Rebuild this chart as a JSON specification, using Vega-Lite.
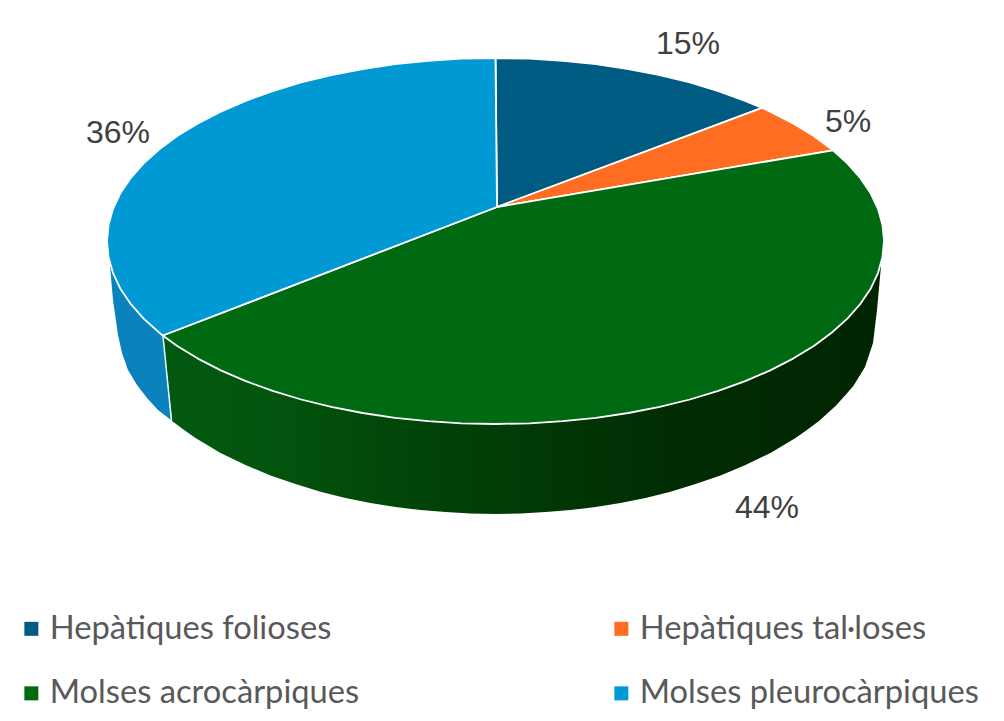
{"$schema":"https://vega.github.io/schema/vega-lite/v6.json","autosize":{"type":"fit","contains":"padding"},"width":1004,"height":721,"padding":0,"background":"white","view":{"stroke":null},
"datasets":{
"paretBlava":[
{"i":0,"x":110,"y":266},{"i":1,"x":113,"y":300},{"i":2,"x":118,"y":335},{"i":3,"x":122,"y":353},{"i":4,"x":128,"y":370},{"i":5,"x":137,"y":385},{"i":6,"x":147,"y":398},{"i":7,"x":158,"y":410},{"i":8,"x":171,"y":420},{"i":9,"x":163,"y":336},{"i":10,"x":200,"y":300},{"i":11,"x":110,"y":266}
],
"paretVerda":[
{"i":0,"x":163,"y":336},{"i":1,"x":172,"y":421},{"i":2,"x":185.5,"y":431.1},{"i":3,"x":195.5,"y":438},{"i":4,"x":220.5,"y":452.9},{"i":5,"x":245.5,"y":465},{"i":6,"x":270.5,"y":475.6},{"i":7,"x":295.5,"y":484},{"i":8,"x":320.5,"y":491.7},{"i":9,"x":345.5,"y":498},{"i":10,"x":370.5,"y":503},{"i":11,"x":395.5,"y":507},{"i":12,"x":420.5,"y":510.1},{"i":13,"x":445.5,"y":512},{"i":14,"x":470.5,"y":513.6},{"i":15,"x":495.5,"y":514},{"i":16,"x":520.5,"y":513.6},{"i":17,"x":545.5,"y":512},{"i":18,"x":570.5,"y":510.1},{"i":19,"x":595.5,"y":507},{"i":20,"x":620.5,"y":503},{"i":21,"x":645.5,"y":498},{"i":22,"x":670.5,"y":491.7},{"i":23,"x":695.5,"y":484},{"i":24,"x":720.5,"y":475.6},{"i":25,"x":745.5,"y":465},{"i":26,"x":770.5,"y":452.9},{"i":27,"x":795.5,"y":438},{"i":28,"x":805.5,"y":431.1},{"i":29,"x":819,"y":421},{"i":30,"x":835.5,"y":406},{"i":31,"x":845.5,"y":395},{"i":32,"x":853.5,"y":385.7},{"i":33,"x":865,"y":367},{"i":34,"x":873,"y":343},{"i":35,"x":877,"y":310},{"i":36,"x":881,"y":266},{"i":37,"x":700,"y":300},{"i":38,"x":163,"y":336}
],
"divisio":[{"i":0,"x":163,"y":336},{"i":1,"x":171.5,"y":421}],
"tapa":[
{"categoria":"Hepàtiques folioses","i":0,"x":497,"y":207},{"categoria":"Hepàtiques folioses","i":1,"x":495.5,"y":58},{"categoria":"Hepàtiques folioses","i":2,"x":529.4,"y":58.7},{"categoria":"Hepàtiques folioses","i":3,"x":562.9,"y":60.8},{"categoria":"Hepàtiques folioses","i":4,"x":596,"y":64.2},{"categoria":"Hepàtiques folioses","i":5,"x":628.4,"y":69},{"categoria":"Hepàtiques folioses","i":6,"x":659.7,"y":75.1},{"categoria":"Hepàtiques folioses","i":7,"x":689.8,"y":82.5},{"categoria":"Hepàtiques folioses","i":8,"x":718.3,"y":91.1},{"categoria":"Hepàtiques folioses","i":9,"x":745.2,"y":100.8},{"categoria":"Hepàtiques folioses","i":10,"x":762,"y":107.8},{"categoria":"Hepàtiques folioses","i":11,"x":497,"y":207},
{"categoria":"Hepàtiques tal·loses","i":0,"x":497,"y":207},{"categoria":"Hepàtiques tal·loses","i":1,"x":762,"y":107.8},{"categoria":"Hepàtiques tal·loses","i":2,"x":770.2,"y":111.6},{"categoria":"Hepàtiques tal·loses","i":3,"x":793.1,"y":123.4},{"categoria":"Hepàtiques tal·loses","i":4,"x":813.8,"y":136},{"categoria":"Hepàtiques tal·loses","i":5,"x":833,"y":150.3},{"categoria":"Hepàtiques tal·loses","i":6,"x":497,"y":207},
{"categoria":"Molses acrocàrpiques","i":0,"x":497,"y":207},{"categoria":"Molses acrocàrpiques","i":1,"x":833,"y":150.3},{"categoria":"Molses acrocàrpiques","i":2,"x":847.6,"y":163.7},{"categoria":"Molses acrocàrpiques","i":3,"x":860.6,"y":178.4},{"categoria":"Molses acrocàrpiques","i":4,"x":870.8,"y":193.6},{"categoria":"Molses acrocàrpiques","i":5,"x":878.1,"y":209.2},{"categoria":"Molses acrocàrpiques","i":6,"x":882.5,"y":225},{"categoria":"Molses acrocàrpiques","i":7,"x":884,"y":241},{"categoria":"Molses acrocàrpiques","i":8,"x":882.5,"y":257},{"categoria":"Molses acrocàrpiques","i":9,"x":878.1,"y":272.8},{"categoria":"Molses acrocàrpiques","i":10,"x":870.8,"y":288.4},{"categoria":"Molses acrocàrpiques","i":11,"x":860.6,"y":303.6},{"categoria":"Molses acrocàrpiques","i":12,"x":847.6,"y":318.3},{"categoria":"Molses acrocàrpiques","i":13,"x":831.9,"y":332.5},{"categoria":"Molses acrocàrpiques","i":14,"x":813.8,"y":346},{"categoria":"Molses acrocàrpiques","i":15,"x":793.1,"y":358.6},{"categoria":"Molses acrocàrpiques","i":16,"x":770.2,"y":370.4},{"categoria":"Molses acrocàrpiques","i":17,"x":745.2,"y":381.2},{"categoria":"Molses acrocàrpiques","i":18,"x":718.3,"y":390.9},{"categoria":"Molses acrocàrpiques","i":19,"x":689.8,"y":399.5},{"categoria":"Molses acrocàrpiques","i":20,"x":659.7,"y":406.9},{"categoria":"Molses acrocàrpiques","i":21,"x":628.4,"y":413},{"categoria":"Molses acrocàrpiques","i":22,"x":596,"y":417.8},{"categoria":"Molses acrocàrpiques","i":23,"x":562.9,"y":421.2},{"categoria":"Molses acrocàrpiques","i":24,"x":529.4,"y":423.3},{"categoria":"Molses acrocàrpiques","i":25,"x":495.5,"y":424},{"categoria":"Molses acrocàrpiques","i":26,"x":461.6,"y":423.3},{"categoria":"Molses acrocàrpiques","i":27,"x":428.1,"y":421.2},{"categoria":"Molses acrocàrpiques","i":28,"x":395,"y":417.8},{"categoria":"Molses acrocàrpiques","i":29,"x":362.6,"y":413},{"categoria":"Molses acrocàrpiques","i":30,"x":331.3,"y":406.9},{"categoria":"Molses acrocàrpiques","i":31,"x":301.2,"y":399.5},{"categoria":"Molses acrocàrpiques","i":32,"x":272.7,"y":390.9},{"categoria":"Molses acrocàrpiques","i":33,"x":245.8,"y":381.2},{"categoria":"Molses acrocàrpiques","i":34,"x":220.8,"y":370.4},{"categoria":"Molses acrocàrpiques","i":35,"x":197.9,"y":358.6},{"categoria":"Molses acrocàrpiques","i":36,"x":177.2,"y":346},{"categoria":"Molses acrocàrpiques","i":37,"x":162.8,"y":335.5},{"categoria":"Molses acrocàrpiques","i":38,"x":497,"y":207},
{"categoria":"Molses pleurocàrpiques","i":0,"x":497,"y":207},{"categoria":"Molses pleurocàrpiques","i":1,"x":162.8,"y":335.5},{"categoria":"Molses pleurocàrpiques","i":2,"x":159.1,"y":332.5},{"categoria":"Molses pleurocàrpiques","i":3,"x":143.4,"y":318.3},{"categoria":"Molses pleurocàrpiques","i":4,"x":130.4,"y":303.6},{"categoria":"Molses pleurocàrpiques","i":5,"x":120.2,"y":288.4},{"categoria":"Molses pleurocàrpiques","i":6,"x":112.9,"y":272.8},{"categoria":"Molses pleurocàrpiques","i":7,"x":108.5,"y":257},{"categoria":"Molses pleurocàrpiques","i":8,"x":107,"y":241},{"categoria":"Molses pleurocàrpiques","i":9,"x":108.5,"y":225},{"categoria":"Molses pleurocàrpiques","i":10,"x":112.9,"y":209.2},{"categoria":"Molses pleurocàrpiques","i":11,"x":120.2,"y":193.6},{"categoria":"Molses pleurocàrpiques","i":12,"x":130.4,"y":178.4},{"categoria":"Molses pleurocàrpiques","i":13,"x":143.4,"y":163.7},{"categoria":"Molses pleurocàrpiques","i":14,"x":159.1,"y":149.5},{"categoria":"Molses pleurocàrpiques","i":15,"x":177.2,"y":136},{"categoria":"Molses pleurocàrpiques","i":16,"x":197.9,"y":123.4},{"categoria":"Molses pleurocàrpiques","i":17,"x":220.8,"y":111.6},{"categoria":"Molses pleurocàrpiques","i":18,"x":245.8,"y":100.8},{"categoria":"Molses pleurocàrpiques","i":19,"x":272.7,"y":91.1},{"categoria":"Molses pleurocàrpiques","i":20,"x":301.2,"y":82.5},{"categoria":"Molses pleurocàrpiques","i":21,"x":331.3,"y":75.1},{"categoria":"Molses pleurocàrpiques","i":22,"x":362.6,"y":69},{"categoria":"Molses pleurocàrpiques","i":23,"x":395,"y":64.2},{"categoria":"Molses pleurocàrpiques","i":24,"x":428.1,"y":60.8},{"categoria":"Molses pleurocàrpiques","i":25,"x":461.6,"y":58.7},{"categoria":"Molses pleurocàrpiques","i":26,"x":495.5,"y":58},{"categoria":"Molses pleurocàrpiques","i":27,"x":497,"y":207}
],
"etiquetes":[
{"categoria":"Hepàtiques folioses","valor":0.15,"x":688,"y":44},
{"categoria":"Hepàtiques tal·loses","valor":0.05,"x":848,"y":122},
{"categoria":"Molses acrocàrpiques","valor":0.44,"x":767,"y":508},
{"categoria":"Molses pleurocàrpiques","valor":0.36,"x":118,"y":133}
]},
"layer":[
{"data":{"name":"paretBlava"},
"mark":{"type":"line","filled":true,"fill":"#0a82bb","strokeWidth":0},
"encoding":{"x":{"field":"x","type":"quantitative","scale":{"domain":[0,1004],"nice":false,"zero":false},"axis":null},"y":{"field":"y","type":"quantitative","scale":{"domain":[721,0],"nice":false,"zero":false},"axis":null},"order":{"field":"i","type":"quantitative"}}},
{"data":{"name":"paretVerda"},
"mark":{"type":"line","filled":true,"strokeWidth":0,"fill":{"gradient":"linear","x1":0,"y1":0,"x2":1,"y2":0,"stops":[{"offset":0,"color":"#03590f"},{"offset":0.15,"color":"#03540e"},{"offset":0.3,"color":"#02480a"},{"offset":0.5,"color":"#013a06"},{"offset":0.7,"color":"#012d03"},{"offset":1,"color":"#012402"}]}},
"encoding":{"x":{"field":"x","type":"quantitative"},"y":{"field":"y","type":"quantitative"},"order":{"field":"i","type":"quantitative"}}},
{"data":{"name":"divisio"},"mark":{"type":"line","stroke":"#e8f6fa","strokeWidth":1.5},
"encoding":{"x":{"field":"x","type":"quantitative"},"y":{"field":"y","type":"quantitative"},"order":{"field":"i","type":"quantitative"}}},
{"data":{"name":"tapa"},"mark":{"type":"line","filled":true,"stroke":"white","strokeWidth":1.8,"strokeJoin":"round"},
"encoding":{"x":{"field":"x","type":"quantitative"},"y":{"field":"y","type":"quantitative"},"order":{"field":"i","type":"quantitative"},
"fill":{"field":"categoria","type":"nominal","sort":null,"scale":{"domain":["Hepàtiques folioses","Hepàtiques tal·loses","Molses acrocàrpiques","Molses pleurocàrpiques"],"range":["#005b82","#ff6d22","#006a12","#0099d3"]},
"legend":{"title":null,"orient":"none","direction":"horizontal","legendX":15,"legendY":612,"columns":2,"symbolType":"square","symbolSize":196,"symbolStrokeWidth":0,"symbolStrokeColor":"transparent","labelFont":"Lato","labelFontSize":32.7,"labelColor":"#595959","labelOffset":2,"columnPadding":245,"rowPadding":31,"labelLimit":400,"padding":0}}}},
{"data":{"name":"etiquetes"},"mark":{"type":"text","font":"Liberation Sans","fontSize":32,"color":"#404040","align":"center","baseline":"middle"},
"encoding":{"x":{"field":"x","type":"quantitative"},"y":{"field":"y","type":"quantitative"},"text":{"field":"valor","type":"quantitative","format":".0%"}}}
],
"config":{"style":{"cell":{"stroke":null}}}}
